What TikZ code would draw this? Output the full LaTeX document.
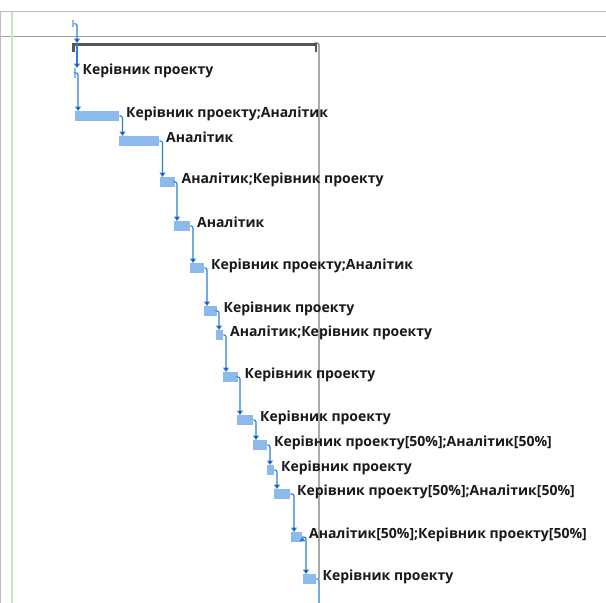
\documentclass[tikz,border=0pt]{standalone}
\usepackage{fontspec}
\setmainfont{Open Sans}
\usetikzlibrary{arrows.meta, positioning}

\definecolor{barblue}{RGB}{141,186,236}
\definecolor{linkblue}{RGB}{45,125,215}
\definecolor{sumgrey}{RGB}{85,85,85}
\definecolor{gridgrey}{RGB}{190,190,190}
\definecolor{headgrey}{RGB}{160,160,160}
\definecolor{dategrey}{RGB}{125,125,125}
\definecolor{gridgreen}{RGB}{200,226,200}

\begin{document}
\begin{tikzpicture}[x=1pt, y=-1pt,
    bar/.style={fill=barblue, inner sep=0pt, minimum height=9.5pt, anchor=north west},
    lbl/.style={font=\bfseries\fontsize{14}{16}\selectfont, text=black!90, inner sep=0pt, text height=10pt, text depth=3pt},
    link/.style={draw=linkblue, line width=1.1pt, rounded corners=2pt, -{Triangle[width=6pt,length=4.5pt]},
        to path={-| (\tikztotarget)}}]
    \path[use as bounding box, fill=white] (0,0) rectangle (606,603);

    % table grid
    \draw[gridgrey, line width=1pt] (0,11.5) -- (606,11.5);
    \draw[headgrey, line width=1pt] (0,36) -- (606,36);
    \draw[gridgrey, line width=1pt] (0.5,11.5) -- (0.5,603);
    \draw[gridgreen, line width=1.5pt] (12,11.5) -- (12,603);

    % summary
    \node[fill=sumgrey, inner sep=0pt, minimum width=245pt, minimum height=2.5pt, anchor=north west] (S) at (72,43) {};
    \fill[sumgrey] (S.north west) rectangle ++(2.5,9);
    \fill[sumgrey] (S.north east) rectangle ++(-2.5,9);
    \coordinate (E) at (319,579);
    \draw[dategrey, line width=1.2pt, rounded corners=2pt] (S.north east) -| (E);

    % bars
    \node[bar, minimum width=2pt, minimum height=7pt] (T0) at (72,20) {};
    \node[bar, minimum width=2pt] (T1) at (74,68) {};
    \node[bar, minimum width=44pt] (T2) at (75,111) {};
    \node[bar, minimum width=40pt] (T3) at (119,136) {};
    \node[bar, minimum width=15pt] (T4) at (160,177) {};
    \node[bar, minimum width=16pt] (T5) at (174,221) {};
    \node[bar, minimum width=14pt] (T6) at (190,263) {};
    \node[bar, minimum width=13pt] (T7) at (204,306) {};
    \node[bar, minimum width=7pt] (T8) at (216,330) {};
    \node[bar, minimum width=15pt] (T9) at (223,372) {};
    \node[bar, minimum width=16pt] (T10) at (237,415) {};
    \node[bar, minimum width=14pt] (T11) at (253,440) {};
    \node[bar, minimum width=7pt] (T12) at (267,465) {};
    \node[bar, minimum width=16pt] (T13) at (274,489) {};
    \node[bar, minimum width=11pt] (T14) at (291,532) {};
    \node[bar, minimum width=13pt] (T15) at (303,574) {};
    \coordinate (N) at (319,603);

    % resources
    \node[lbl, above right=0pt and 6pt of T1.south east] {Керівник проекту};
    \node[lbl, above right=0pt and 6.5pt of T2.south east] {Керівник проекту;Аналітик};
    \node[lbl, above right=0pt and 6.5pt of T3.south east] {Аналітик};
    \node[lbl, above right=0pt and 6pt of T4.south east] {Аналітик;Керівник проекту};
    \node[lbl, above right=0pt and 6.5pt of T5.south east] {Аналітик};
    \node[lbl, above right=0pt and 6.5pt of T6.south east] {Керівник проекту;Аналітик};
    \node[lbl, above right=0pt and 6pt of T7.south east] {Керівник проекту};
    \node[lbl, above right=0pt and 6.5pt of T8.south east] {Аналітик;Керівник проекту};
    \node[lbl, above right=0pt and 6pt of T9.south east] {Керівник проекту};
    \node[lbl, above right=0pt and 6.5pt of T10.south east] {Керівник проекту};
    \node[lbl, above right=0pt and 6.5pt of T11.south east] {Керівник проекту[50\%];Аналітик[50\%]};
    \node[lbl, above right=0pt and 6.5pt of T12.south east] {Керівник проекту};
    \node[lbl, above right=0pt and 6.5pt of T13.south east] {Керівник проекту[50\%];Аналітик[50\%]};
    \node[lbl, above right=0pt and 6.5pt of T14.south east] {Аналітик[50\%];Керівник проекту[50\%]};
    \node[lbl, above right=0pt and 6pt of T15.south east] {Керівник проекту};

    % links
    \path[link]
    (T0.east) edge ([xshift=5pt]S.north west)
    ([xshift=5pt]S.south west) edge ([xshift=3pt]T1.north west)
    (T1.east) edge ([xshift=3pt]T2.north west)
    (T2.east) edge ([xshift=3.5pt]T3.north west)
    (T3.east) edge ([xshift=2.5pt]T4.north west)
    (T4.east) edge ([xshift=3pt]T5.north west)
    (T5.east) edge ([xshift=3pt]T6.north west)
    (T6.east) edge ([xshift=3pt]T7.north west)
    (T7.east) edge ([xshift=3pt]T8.north west)
    (T8.east) edge ([xshift=3pt]T9.north west)
    (T9.east) edge ([xshift=3pt]T10.north west)
    (T10.east) edge ([xshift=3pt]T11.north west)
    (T11.east) edge ([xshift=3pt]T12.north west)
    (T12.east) edge ([xshift=3pt]T13.north west)
    (T13.east) edge ([xshift=3pt]T14.north west)
    (T14.east) edge ([xshift=3pt]T15.north west);
    \draw[linkblue, line width=1.1pt, rounded corners=2pt] (T15.east) -| (N);
\end{tikzpicture}
\end{document}
